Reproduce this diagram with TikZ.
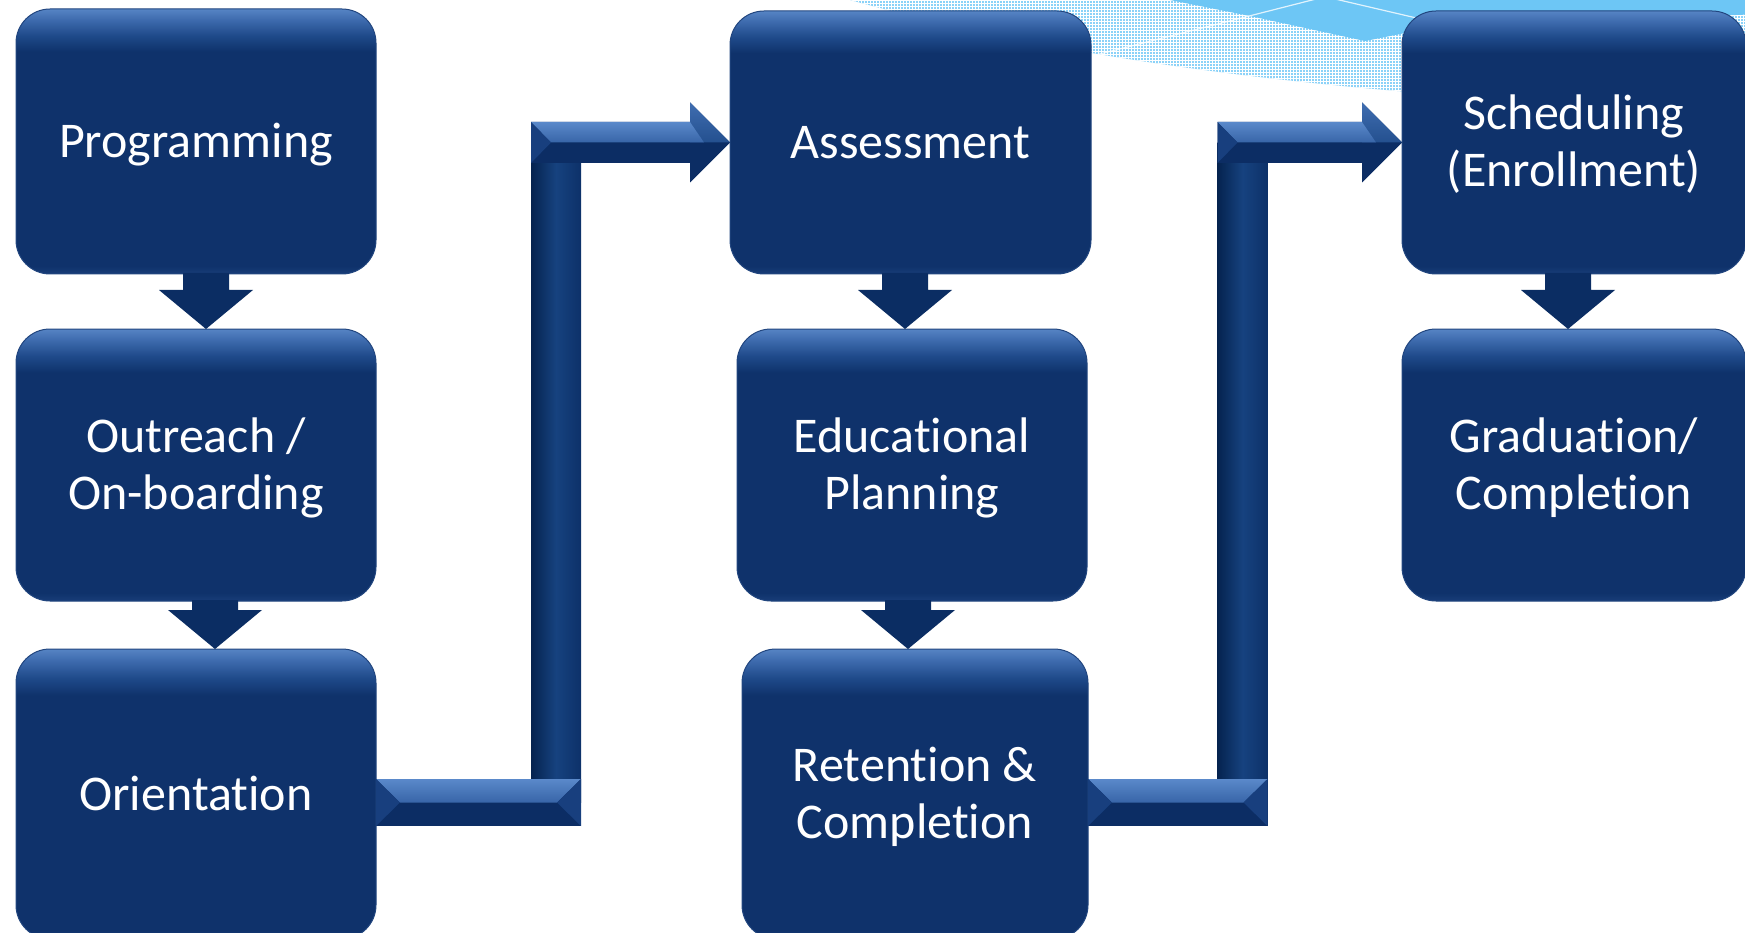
\documentclass[tikz,border=0pt]{standalone}
\usepackage{fontspec}
\setmainfont{Carlito}[Ligatures=NoCommon]
\usetikzlibrary{calc,patterns}

% palette
\definecolor{navy}{HTML}{0F326B}
\definecolor{navyedge}{HTML}{22467F}
\definecolor{boxtop}{HTML}{5684C4}
\definecolor{boxhi}{HTML}{3E6BAE}
\definecolor{boxmid}{HTML}{1F4A8A}
\definecolor{boxbot}{HTML}{183D78}
\definecolor{arrownavy}{HTML}{0B2D63}
\definecolor{bevellight}{HTML}{5A89CA}
\definecolor{bevelmid}{HTML}{3865A8}
\definecolor{bevelside}{HTML}{183F7E}
\definecolor{headlight}{HTML}{3F6DB0}
\definecolor{headmid}{HTML}{24508F}
\definecolor{barnavy}{HTML}{0C2D64}
\definecolor{stemdark}{HTML}{05234F}
\definecolor{stemlight}{HTML}{16427F}
\definecolor{stemright}{HTML}{0D3169}
\definecolor{skylight}{HTML}{8BD2F8}
\definecolor{skyplain}{HTML}{6DC6F5}

% box body: light rim along the top, plain navy body, slightly lighter foot
\pgfdeclareverticalshading{boxshade}{100bp}{color(0bp)=(boxbot); color(25bp)=(boxbot); color(26.5bp)=(navy); color(67bp)=(navy); color(70bp)=(boxmid); color(73bp)=(boxhi); color(75bp)=(boxtop); color(100bp)=(boxtop)}

\newcommand{\stagefont}{\fontsize{50}{57}\selectfont}
% invisible strut that keeps the capitals of every line centred
\newcommand{\capstrut}{\rule[-11pt]{0pt}{54pt}}
% two-line label, each line with its own strut
\newcommand{\twolines}[2]{\capstrut#1\\\capstrut#2}

\tikzset{
  stage/.style={rectangle, rounded corners=34pt, shade, shading=boxshade,
    draw=navyedge, line width=1pt, text=white, align=center,
    inner sep=0pt, outer sep=0pt, font=\stagefont,
    execute at begin node=\capstrut},
}

% short downward block arrow between two stacked stages
% #1 source, #2 target, #3 horizontal offset of the arrow from the source centre
\newcommand{\flowdown}[3]{%
  \fill[arrownavy] let \p1=($(#1.south)+(#3,0)$), \p2=(#2.north) in
    (\x1-23pt,\y1+1pt) -- (\x1+23pt,\y1+1pt) -- (\x1+23pt,\y2+39pt) -- (\x1+47pt,\y2+39pt)
    -- (\x1,\y2) -- (\x1-47pt,\y2+39pt) -- (\x1-23pt,\y2+39pt) -- cycle;}

% bevelled elbow arrow from the foot of one column to the head of the next
% #1 source, #2 target, #3 x of the stem centre, #4 height of the lower bar below the source's east anchor
\newcommand{\elbow}[4]{%
  \coordinate (#1-out) at ($(#1.east)+(0,#4)$);
  \coordinate (#2-in) at (#2.west);
  % stem
  \shade[left color=stemdark, right color=stemright, middle color=stemlight]
    let \p1=(#1-out), \p2=(#2-in) in (#3pt-25pt,\y2) rectangle (#3pt+25pt,\y1);
  % lower bar
  \fill[barnavy] let \p1=(#1-out) in (\x1,\y1+23.5pt) rectangle (#3pt+25pt,\y1-23.5pt);
  \shade[top color=bevellight, bottom color=bevelmid] let \p1=(#1-out) in
    (\x1,\y1+23.5pt) -- (#3pt+25pt,\y1+23.5pt) -- (#3pt+1pt,\y1) -- (\x1+24pt,\y1) -- cycle;
  \fill[bevelside] let \p1=(#1-out) in
    (\x1,\y1+23.5pt) -- (\x1+24pt,\y1) -- (\x1,\y1-23.5pt) -- cycle;
  \fill[bevelside] let \p1=(#1-out) in
    (#3pt+25pt,\y1+23.5pt) -- (#3pt+1pt,\y1) -- (#3pt+25pt,\y1-23.5pt) -- cycle;
  % upper bar with its head
  \fill[barnavy] let \p2=(#2-in) in
    (#3pt-25pt,\y2+20.5pt) -- (\x2-40pt,\y2+20.5pt) -- (\x2-40pt,\y2+40pt) -- (\x2,\y2)
    -- (\x2-40pt,\y2-40pt) -- (\x2-40pt,\y2-20.5pt) -- (#3pt-25pt,\y2-20.5pt) -- cycle;
  \shade[top color=headlight, bottom color=headmid] let \p2=(#2-in) in
    (\x2-40pt,\y2+40pt) -- (\x2,\y2) -- (\x2-40pt,\y2) -- cycle;
  \shade[top color=bevellight, bottom color=bevelmid] let \p2=(#2-in) in
    (#3pt-25pt,\y2+20.5pt) -- (\x2-40pt,\y2+20.5pt) -- (\x2-26pt,\y2) -- (#3pt-5pt,\y2) -- cycle;
  \fill[bevelside] let \p2=(#2-in) in
    (#3pt-25pt,\y2+20.5pt) -- (#3pt-5pt,\y2) -- (#3pt-25pt,\y2-20.5pt) -- cycle;
}

\begin{document}
\begin{tikzpicture}[x=1pt,y=-1pt]
\useasboundingbox (0,0) rectangle (1745,933);
\clip (0,0) rectangle (1745,933);

% sky swoosh in the upper right
\fill[skylight] (850,0) .. controls (990,38) and (1250,98) .. (1760,110) -- (1760,-5) -- (850,-5) -- cycle;
\fill[pattern=grid, pattern color=white, fill opacity=0.15]
  (850,0) .. controls (990,38) and (1250,98) .. (1760,110) -- (1760,-5) -- (850,-5) -- cycle;
\fill[skyplain] (1160,-2) -- (1250,16) -- (1365,41) -- (1430,28) -- (1760,14) -- (1760,-2) -- cycle;
\draw[white, line width=1.2pt, opacity=0.8] (1092,56) -- (1316,-1);
\draw[white, line width=1.2pt, opacity=0.8] (1335,-1) -- (1425,20);

% stages
\node[stage, minimum width=360pt, minimum height=265pt] (prog) at (196,141.5) {Programming};
\node[stage, minimum width=360pt, minimum height=272pt] (outr) at (196,465) {\twolines{Outreach /}{On-boarding}};
\node[stage, minimum width=360pt, minimum height=290pt] (orie) at (196,794) {Orientation};
\node[stage, minimum width=361pt, minimum height=263pt] (asse) at (910.5,142.5) {Assessment};
\node[stage, minimum width=350pt, minimum height=272pt] (edu) at (912,465) {\twolines{Educational}{Planning}};
\node[stage, minimum width=346pt, minimum height=290pt] (ret) at (915,794) {\twolines{Retention \&}{Completion}};
\node[stage, minimum width=344pt, minimum height=263pt] (sche) at (1574,142.5) {\twolines{Scheduling}{(Enrollment)}};
\node[stage, minimum width=344pt, minimum height=272pt] (grad) at (1574,465) {\twolines{Graduation/}{Completion}};

% connectors within the columns
\flowdown{prog}{outr}{10}
\flowdown{outr}{orie}{19}
\flowdown{asse}{edu}{-5.5}
\flowdown{edu}{ret}{-4}
\flowdown{sche}{grad}{-6}

% connectors between the columns
\elbow{orie}{asse}{556}{8.5}
\elbow{ret}{sche}{1242.5}{8.5}
\end{tikzpicture}
\end{document}
